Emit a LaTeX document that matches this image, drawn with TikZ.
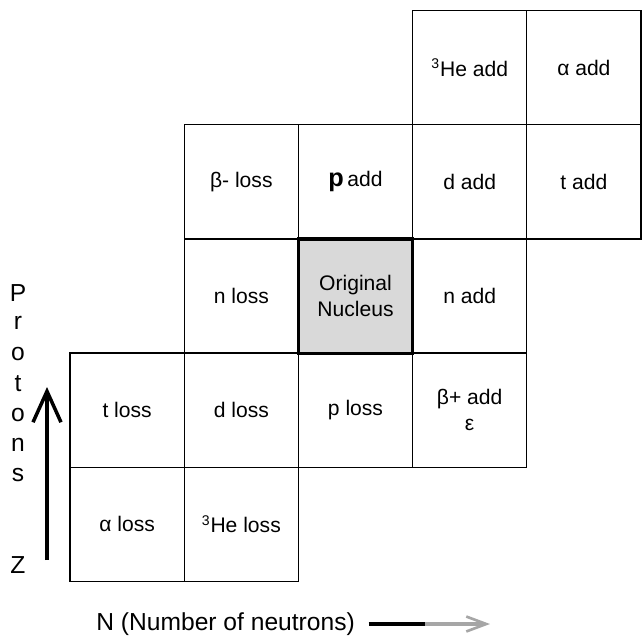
\documentclass[tikz,border=0pt]{standalone}
\usepackage{fontspec}
\setmainfont{Liberation Sans}
\usetikzlibrary{arrows.meta,positioning}

\begin{document}
\begin{tikzpicture}[
    x=0.02cm, y=-0.02cm,
    node distance=0cm and 0cm,
    cell/.style={draw, line width=0.7pt, minimum width=2.284cm, minimum height=2.284cm, inner sep=0pt, outer sep=0pt, align=center, font=\fontsize{12}{15}\selectfont},
    nucleus/.style={cell, fill=black!15},
    axis/.style={font=\fontsize{14}{16}\selectfont},
    arrow/.style={line width=2.2pt, -{Straight Barb[length=0.62cm, width=0.56cm, line width=2pt]}}
]
    \useasboundingbox (0,0) rectangle (642,640);

    % chart of nuclides round the original nucleus
    \node (o) [nucleus] at (355.5,296) {Original\\Nucleus};
    \node (nl) [cell, left=of o] {n loss};
    \node (na) [cell, right=of o] {n add};
    \node (pa) [cell, above=of o] {{\Large\bfseries p}\,add};
    \node (pl) [cell, below=of o] {p loss};
    \node (bl) [cell, above=of nl] {β- loss};
    \node (da) [cell, right=of pa] {d add};
    \node (ta) [cell, right=of da] {t add};
    \node (hea) [cell, above=of da] {\textsuperscript{3}He add};
    \node (aa) [cell, right=of hea] {α add};
    \node (dl) [cell, below=of nl] {d loss};
    \node (tl) [cell, left=of dl] {t loss};
    \node (bp) [cell, right=of pl] {β+ add\\ε};
    \node (al) [cell, below=of tl] {α loss};
    \node (hel) [cell, below=of dl] {\textsuperscript{3}He loss};
    \draw [line width=1.8pt] (o.south west) rectangle (o.north east);

    % proton axis
    \foreach \ch [count=\i] in {P,r,o,t,o,n,s}
        \node (z\i) [axis] at (18, 262.5+30.4*\i) {\ch};
    \node (z) [axis] at (18,565) {Z};
    \coordinate (zb) at (47,560);
    \coordinate (zt) at (47,387);
    \draw [arrow] (zb) -- (zt);

    % neutron axis
    \node (n) [axis, anchor=east] at (361,624) {N (Number of neutrons)};
    \coordinate (nm) at (425,624);
    \coordinate (ne) at (490,624);
    \draw [line width=2.5pt] ([xshift=0.15cm]n.east) -- (nm);
    \draw [line width=2.5pt, black!35, -{Straight Barb[length=0.4cm, width=0.3cm, line width=1.5pt]}] (nm) -- (ne);
\end{tikzpicture}
\end{document}
